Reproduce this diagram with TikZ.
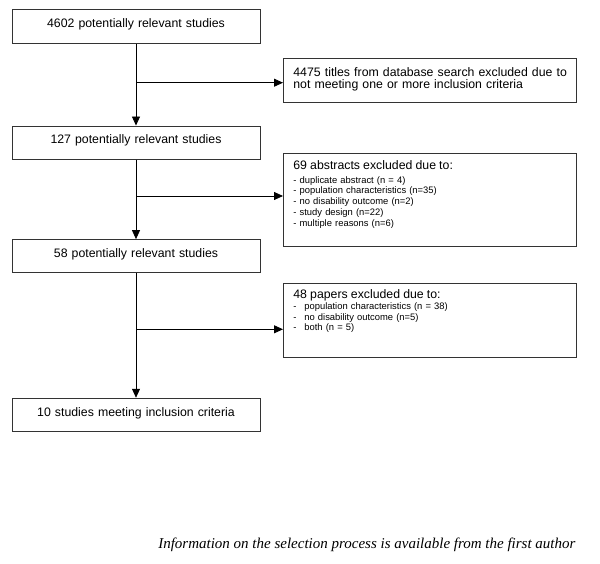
\documentclass[tikz,border=0pt]{standalone}
\usepackage{fontspec}
\setmainfont{Liberation Sans}
\newfontfamily\notefont{Liberation Serif}
\usetikzlibrary{arrows.meta, positioning}
\newcommand{\hdfont}{\fontsize{12.3}{12.8}\selectfont}

\begin{document}
\begin{tikzpicture}[
	x=1pt, y=-1pt,
	node distance=80pt and 0pt,
	block/.style={rectangle, draw=black!80, line width=0.8pt, 
		minimum width=248pt, minimum height=33.3pt, text width=240pt, inner sep=0pt,
		align=center, text height=9pt, text depth=6.6pt, font=\hdfont},
	excl/.style={rectangle, draw=black!80, line width=0.8pt, anchor=north west,
		text width=273pt, inner xsep=10pt, inner ysep=5pt, align=left,
		font=\fontsize{9.4}{10.7}\selectfont},
	line/.style={draw, line width=0.8pt, -{Triangle[length=9pt, width=8pt]}},
	]
	\useasboundingbox (0,0) rectangle (600,564);
	
	\node [block] (0) at (136,26.5) {4602 potentially relevant studies};
	\node [block, below=82pt of 0] (1) {127 potentially relevant studies};
	\node [block, below=79.5pt of 1] (2) {58 potentially relevant studies};
	\node [block, below=124.5pt of 2] (3) {10 studies meeting inclusion criteria};
	
	\node [excl, font=\hdfont, text height=12.7pt, text depth=21.3pt] (x0) at (283,58)
		{\mbox{4475 titles from database search excluded due to}\\
		not meeting one or more inclusion criteria};
	\node [excl, text height=11pt, text depth=72pt] (x1) at (283,153)
		{{\hdfont 69 abstracts excluded due to:}\\[3.2pt]
		- duplicate abstract (n = 4)\\
		- population characteristics (n=35)\\
		- no disability outcome (n=2)\\
		- study design (n=22)\\
		- multiple reasons (n=6)};
	\node [excl, text height=10.3pt, text depth=53.7pt] (x2) at (283,283)
		{{\hdfont 48 papers excluded due to:}\\
		\makebox[11pt][l]{-}population characteristics (n = 38)\\
		\makebox[11pt][l]{-}no disability outcome (n=5)\\
		\makebox[11pt][l]{-}both (n = 5)};
	
	\node [anchor=base east, font=\notefont\itshape\fontsize{15}{18}\selectfont] (note) at (579,548)
		{Information on the selection process is available from the first author};
	
	\coordinate (j0) at (136,82.7);
	\coordinate (j1) at (136,196);
	\coordinate (j2) at (136,329.3);
	
	\path [line] (0) -- (1);
	\path [line] (1) -- (2);
	\path [line] (2) -- (3);
	\path [line] (j0) -- (j0 -| x0.west);
	\path [line] (j1) -- (j1 -| x1.west);
	\path [line] (j2) -- (j2 -| x2.west);
\end{tikzpicture}
\end{document}
